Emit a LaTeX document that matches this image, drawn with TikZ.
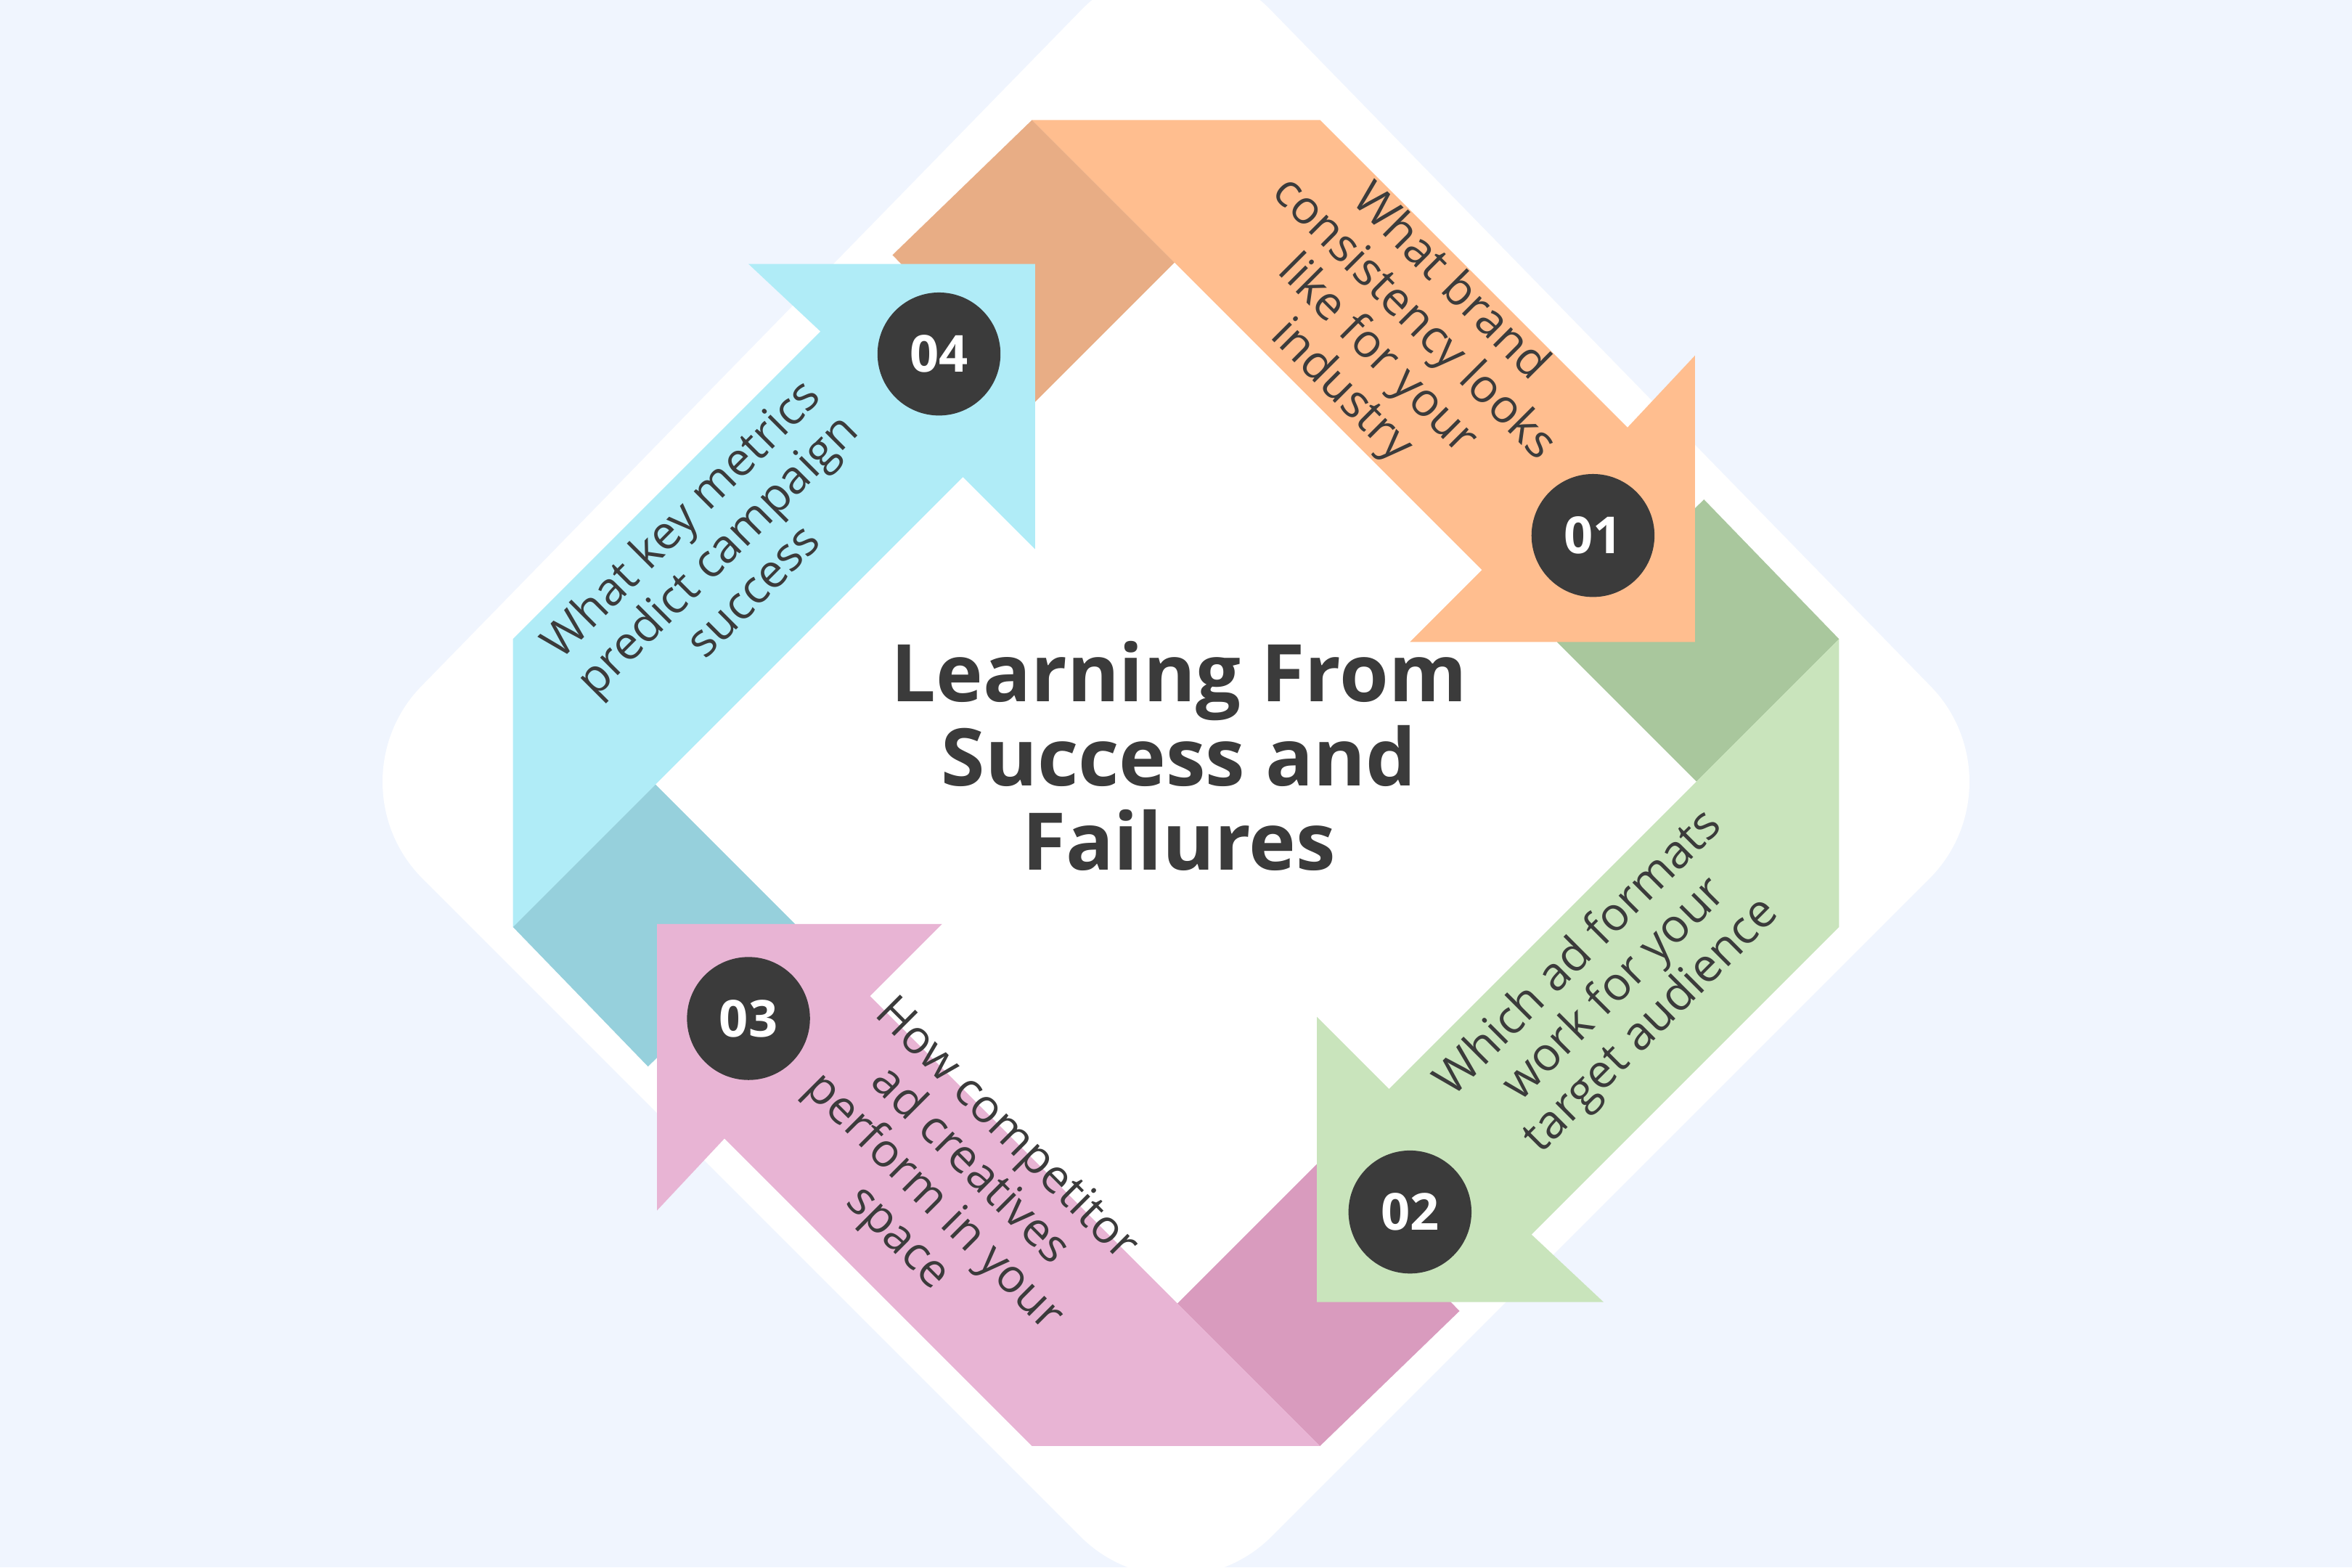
\documentclass[tikz,border=0pt]{standalone}
\usepackage{fontspec}
\setmainfont{Open Sans}
\begin{document}
\begin{tikzpicture}[x=1pt,y=-1pt]
\definecolor{bg}{HTML}{F0F5FE}
\definecolor{ink}{HTML}{3B3B3B}
\definecolor{oA}{HTML}{FFBE8F}\definecolor{oF}{HTML}{E8AD85}
\definecolor{gA}{HTML}{C9E4BC}\definecolor{gF}{HTML}{A9C79D}
\definecolor{pA}{HTML}{E8B4D4}\definecolor{pF}{HTML}{D99BBE}
\definecolor{bA}{HTML}{B0ECF7}\definecolor{bF}{HTML}{96D0DC}
\tikzset{
 badge/.style={circle,fill=ink,minimum size=82pt,text=white,font=\fontsize{34}{34}\selectfont\bfseries,inner sep=0pt},
 lab/.style={text=ink,align=center,font=\fontsize{31}{34}\selectfont,inner sep=0pt}}
\fill[bg] (-784,-522) rectangle (784,523);
\useasboundingbox (-784,-522) rectangle (784,523);
\fill[white,rounded corners=90pt] (0,-580) -- (566,0) -- (0,566) -- (-566,0) -- cycle;
\foreach \r/\f in {0/oF,-90/gF,-180/pF,-270/bF}{
 \fill[\f,rotate=\r] (-189,-352) -- (-96,-442) -- (-1,-347) -- (-94,-254) -- cycle;}
\foreach \r/\a in {0/oA,-90/gA,-180/pA,-270/bA}{
 \fill[\a,rotate=\r] (-96,-442) -- (96,-442) -- (301,-237) -- (346,-285) -- (346,-94) -- (156,-94) -- (204,-142) -- cycle;}
\node[badge] (n1) at (278,-165) {01};
\node[badge] (n2) at (156,286) {02};
\node[badge] (n3) at (-285,157) {03};
\node[badge] (n4) at (-158,-286) {04};
\node[lab,rotate=-45] (t1) at (146,-297) {What brand\\consistency looks\\like for your\\industry};
\node[lab,rotate=45] (t2) at (293,138) {Which ad formats\\work for your\\target audience};
\node[lab,rotate=-45] (t3) at (-150,268) {How competitor\\ad creatives\\perform in your\\space};
\node[lab,rotate=45] (t4) at (-307,-153) {What key metrics\\predict campaign\\success};
\node[text=ink,align=center,font=\fontsize{53}{56}\selectfont\bfseries] (title) at (2,-18) {Learning From\\Success and\\Failures};
\end{tikzpicture}
\end{document}
